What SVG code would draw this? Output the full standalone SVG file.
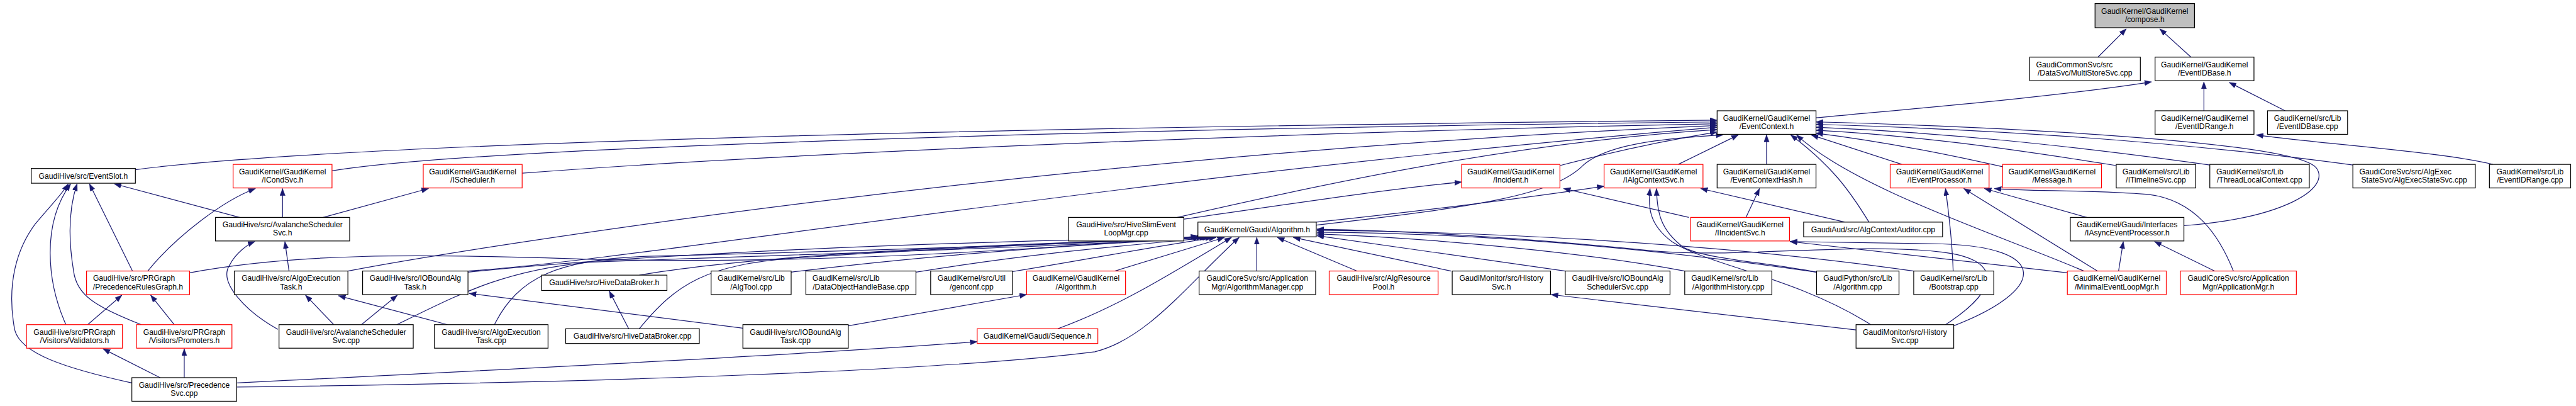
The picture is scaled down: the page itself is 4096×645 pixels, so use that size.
<svg xmlns="http://www.w3.org/2000/svg" width="4096" height="645" viewBox="0 0 4096 645">
<style>
.nd rect{fill:#fff;stroke:#000;stroke-width:1.3}
.nd.red rect{stroke:#f00}
.nd.gray rect{fill:#bfbfbf}
.nd text{font-family:"Liberation Sans",Arial,sans-serif;font-size:13px;fill:#000}
.c{text-anchor:middle}
.e path{fill:none;stroke:#191970;stroke-width:1.3;marker-end:url(#ah)}
</style>
<defs>
<marker id="ah" markerUnits="userSpaceOnUse" markerWidth="13" markerHeight="10" refX="12" refY="4.5" orient="auto">
<path d="M0,0 L12,4.5 L0,9 z" fill="#191970" stroke="#191970" stroke-width="0.5"/>
</marker>
</defs>
<rect width="4096" height="645" fill="#fff"/>
<g transform="scale(0.936)">
<g id="edges" class="e">
<path d="M3564,97 L3612,49"/>
<path d="M3722,97 L3669,49"/>
<path d="M3085,200 C3300,180 3500,163 3655,139"/>
<path d="M3744,188 L3744,139"/>
<path d="M3882,188 L3787,140"/>
<path d="M4235,279 C4150,258 3950,245 3833,229"/>
<path d="M230,288 C600,240 1800,215 2917,204"/>
<path d="M564,290 C800,250 1900,218 2917,207"/>
<path d="M887,294 C1400,255 2300,222 2917,210"/>
<path d="M591,460 C800,420 1800,260 2917,213"/>
<path d="M795,460 C1100,440 1900,300 2917,216"/>
<path d="M2000,369 C2300,300 2600,240 2917,220"/>
<path d="M2011,372 C2200,345 2350,322 2483,309"/>
<path d="M2650,281 C2750,255 2850,235 2917,224"/>
<path d="M2236,382 C2520,350 2640,330 2690,280 C2730,245 2820,235 2927,229"/>
<path d="M2236,377 C2400,360 2600,335 2725,316"/>
<path d="M2851,279 L2953,229"/>
<path d="M3001,279 L3001,229"/>
<path d="M3175,377 C3140,320 3110,280 3042,229"/>
<path d="M3540,460 C3400,400 3150,320 3052,229"/>
<path d="M3231,279 L3077,229"/>
<path d="M3402,283 C3300,260 3200,240 3085,226"/>
<path d="M3595,281 C3400,250 3250,230 3085,221"/>
<path d="M3754,280 C3500,245 3300,225 3085,216"/>
<path d="M3997,280 C3700,240 3400,220 3085,211"/>
<path d="M3710,383 C3880,370 3960,320 3935,285 C3900,240 3400,215 3085,207"/>
<path d="M3318,460 C3316,400 3310,360 3305,320"/>
<path d="M3563,460 L3336,320"/>
<path d="M3545,369 L3371,320"/>
<path d="M3794,460 C3770,400 3730,340 3650,330 C3550,322 3450,325 3388,320"/>
<path d="M3599,460 L3607,410"/>
<path d="M3762,460 L3660,410"/>
<path d="M3512,463 L3041,410"/>
<path d="M3319,553 C3480,490 3480,420 3300,414 C3200,412 3100,411 3041,410"/>
<path d="M3305,551 C3400,490 3400,440 3300,428 C3150,410 2950,440 2800,425 C2600,405 2400,392 2237,389"/>
<path d="M3178,551 C3050,470 2900,450 2840,410 C2800,380 2800,350 2803,320"/>
<path d="M3086,462 C3000,445 2900,440 2860,420 C2820,390 2815,360 2814,320"/>
<path d="M3134,377 L2889,320"/>
<path d="M2966,369 L2989,320"/>
<path d="M2869,369 L2656,320"/>
<path d="M3153,560 L2635,500"/>
<path d="M2135,460 L2135,403"/>
<path d="M2305,460 L2170,403"/>
<path d="M2465,460 L2197,403"/>
<path d="M2659,460 L2237,400"/>
<path d="M2862,460 C2700,430 2450,405 2237,397"/>
<path d="M3086,462 C2800,420 2500,395 2237,394"/>
<path d="M3251,460 C2900,410 2500,393 2237,391"/>
<path d="M322,463 C500,430 700,430 1000,440 C1400,450 1800,420 2035,401"/>
<path d="M840,551 C880,470 950,440 1100,435 C1500,425 1800,415 2037,402"/>
<path d="M674,551 C780,500 850,460 1000,445 C1400,430 1800,420 2039,403"/>
<path d="M795,462 C1100,430 1600,410 2041,403"/>
<path d="M1086,467 C1300,430 1700,415 2045,403"/>
<path d="M1086,558 C1150,480 1200,450 1350,438 C1600,420 1850,412 2050,403"/>
<path d="M1344,462 C1600,430 1850,415 2055,403"/>
<path d="M1556,462 C1750,430 1900,418 2060,403"/>
<path d="M1720,461 C1850,440 1950,420 2066,403"/>
<path d="M1894,460 L2080,403"/>
<path d="M1797,558 C1900,520 1980,470 2092,403"/>
<path d="M402,657 C1000,650 1600,630 1860,597 C1950,575 2020,480 2105,403"/>
<path d="M402,650 C900,625 1400,600 1660,580"/>
<path d="M1441,553 L1744,500"/>
<path d="M1262,557 L797,498"/>
<path d="M1068,558 L1035,494"/>
<path d="M760,551 L575,502"/>
<path d="M407,369 L194,312"/>
<path d="M480,369 L480,320"/>
<path d="M549,369 L728,320"/>
<path d="M225,460 L152,312"/>
<path d="M251,460 C300,400 380,340 434,320"/>
<path d="M112,551 C80,480 70,380 120,312"/>
<path d="M240,551 C160,520 130,500 125,460 C115,400 118,350 131,312"/>
<path d="M224,650 C110,625 35,600 25,560 C10,480 30,420 60,380 C85,350 105,330 116,312"/>
<path d="M149,551 L207,501"/>
<path d="M296,551 L256,501"/>
<path d="M272,641 L175,592"/>
<path d="M313,641 L313,592"/>
<path d="M491,460 L484,410"/>
<path d="M472,559 C420,530 370,480 390,450 C400,430 420,415 433,410"/>
<path d="M567,551 L519,501"/>
<path d="M614,551 L675,501"/>
</g>

<g id="compose" class="nd gray"><rect x="3559" y="6" width="169" height="41"/><text class="c" x="3643.5" y="23">GaudiKernel/GaudiKernel</text><text class="c" x="3643.5" y="37">/compose.h</text></g>
<g id="multistore" class="nd"><rect x="3448" y="97" width="188" height="40"/><text x="3459" y="114">GaudiCommonSvc/src</text><text class="c" x="3542" y="128">/DataSvc/MultiStoreSvc.cpp</text></g>
<g id="eventidbase_h" class="nd"><rect x="3661" y="97" width="168" height="40"/><text class="c" x="3745" y="114">GaudiKernel/GaudiKernel</text><text class="c" x="3745" y="128">/EventIDBase.h</text></g>

<g id="eventcontext" class="nd"><rect x="2917" y="188" width="168" height="40"/><text class="c" x="3001" y="205">GaudiKernel/GaudiKernel</text><text class="c" x="3001" y="219">/EventContext.h</text></g>
<g id="eventidrange_h" class="nd"><rect x="3661" y="188" width="168" height="40"/><text class="c" x="3745" y="205">GaudiKernel/GaudiKernel</text><text class="c" x="3745" y="219">/EventIDRange.h</text></g>
<g id="eventidbase_cpp" class="nd"><rect x="3852" y="188" width="136" height="40"/><text class="c" x="3920" y="205">GaudiKernel/src/Lib</text><text class="c" x="3920" y="219">/EventIDBase.cpp</text></g>

<g id="eventslot" class="nd"><rect x="53" y="286" width="177" height="25"/><text class="c" x="141.5" y="303">GaudiHive/src/EventSlot.h</text></g>
<g id="icondsvc" class="nd red"><rect x="396" y="279" width="168" height="40"/><text class="c" x="480" y="296">GaudiKernel/GaudiKernel</text><text class="c" x="480" y="310">/ICondSvc.h</text></g>
<g id="ischeduler" class="nd red"><rect x="719" y="279" width="168" height="40"/><text class="c" x="803" y="296">GaudiKernel/GaudiKernel</text><text class="c" x="803" y="310">/IScheduler.h</text></g>
<g id="incident" class="nd red"><rect x="2483" y="279" width="167" height="40"/><text class="c" x="2566.5" y="296">GaudiKernel/GaudiKernel</text><text class="c" x="2566.5" y="310">/Incident.h</text></g>
<g id="ialgcontextsvc" class="nd red"><rect x="2725" y="279" width="168" height="40"/><text class="c" x="2809" y="296">GaudiKernel/GaudiKernel</text><text class="c" x="2809" y="310">/IAlgContextSvc.h</text></g>
<g id="eventcontexthash" class="nd"><rect x="2917" y="279" width="168" height="40"/><text class="c" x="3001" y="296">GaudiKernel/GaudiKernel</text><text class="c" x="3001" y="310">/EventContextHash.h</text></g>
<g id="ieventprocessor" class="nd red"><rect x="3211" y="279" width="168" height="40"/><text class="c" x="3295" y="296">GaudiKernel/GaudiKernel</text><text class="c" x="3295" y="310">/IEventProcessor.h</text></g>
<g id="message" class="nd red"><rect x="3402" y="279" width="168" height="40"/><text class="c" x="3486" y="296">GaudiKernel/GaudiKernel</text><text class="c" x="3486" y="310">/Message.h</text></g>
<g id="itimelinesvc" class="nd"><rect x="3595" y="279" width="135" height="40"/><text class="c" x="3662.5" y="296">GaudiKernel/src/Lib</text><text class="c" x="3662.5" y="310">/ITimelineSvc.cpp</text></g>
<g id="threadlocal" class="nd"><rect x="3754" y="279" width="169" height="40"/><text x="3765" y="296">GaudiKernel/src/Lib</text><text class="c" x="3838.5" y="310">/ThreadLocalContext.cpp</text></g>
<g id="algexecstate" class="nd"><rect x="3997" y="279" width="208" height="40"/><text x="4008" y="296">GaudiCoreSvc/src/AlgExec</text><text class="c" x="4101" y="310">StateSvc/AlgExecStateSvc.cpp</text></g>
<g id="eventidrange_cpp" class="nd"><rect x="4229" y="279" width="138" height="40"/><text class="c" x="4298" y="296">GaudiKernel/src/Lib</text><text class="c" x="4298" y="310">/EventIDRange.cpp</text></g>

<g id="avalanche_h" class="nd"><rect x="366" y="369" width="228" height="40"/><text class="c" x="480" y="386">GaudiHive/src/AvalancheScheduler</text><text class="c" x="480" y="400">Svc.h</text></g>
<g id="hiveslim" class="nd"><rect x="1815" y="369" width="196" height="40"/><text class="c" x="1913" y="386">GaudiHive/src/HiveSlimEvent</text><text class="c" x="1913" y="400">LoopMgr.cpp</text></g>
<g id="gaudialg" class="nd"><rect x="2035" y="377" width="201" height="25"/><text class="c" x="2135.5" y="394">GaudiKernel/Gaudi/Algorithm.h</text></g>
<g id="iincidentsvc" class="nd red"><rect x="2872" y="369" width="168" height="40"/><text class="c" x="2956" y="386">GaudiKernel/GaudiKernel</text><text class="c" x="2956" y="400">/IIncidentSvc.h</text></g>
<g id="algcontextauditor" class="nd"><rect x="3064" y="377" width="236" height="25"/><text class="c" x="3182" y="394">GaudiAud/src/AlgContextAuditor.cpp</text></g>
<g id="iasync" class="nd"><rect x="3517" y="369" width="193" height="40"/><text class="c" x="3613.5" y="386">GaudiKernel/Gaudi/Interfaces</text><text class="c" x="3613.5" y="400">/IAsyncEventProcessor.h</text></g>

<g id="precedencerules" class="nd red"><rect x="147" y="460" width="175" height="40"/><text x="158" y="477">GaudiHive/src/PRGraph</text><text class="c" x="234.5" y="491">/PrecedenceRulesGraph.h</text></g>
<g id="algoexec_h" class="nd"><rect x="398" y="460" width="193" height="40"/><text class="c" x="494.5" y="477">GaudiHive/src/AlgoExecution</text><text class="c" x="494.5" y="491">Task.h</text></g>
<g id="ioboundalg_h" class="nd"><rect x="616" y="460" width="179" height="40"/><text class="c" x="705.5" y="477">GaudiHive/src/IOBoundAlg</text><text class="c" x="705.5" y="491">Task.h</text></g>
<g id="hivedatabroker_h" class="nd"><rect x="920" y="467" width="213" height="26"/><text class="c" x="1026.5" y="484">GaudiHive/src/HiveDataBroker.h</text></g>
<g id="algtool" class="nd"><rect x="1208" y="460" width="136" height="40"/><text class="c" x="1276" y="477">GaudiKernel/src/Lib</text><text class="c" x="1276" y="491">/AlgTool.cpp</text></g>
<g id="dataobjhandle" class="nd"><rect x="1369" y="460" width="187" height="40"/><text x="1380" y="477">GaudiKernel/src/Lib</text><text class="c" x="1462.5" y="491">/DataObjectHandleBase.cpp</text></g>
<g id="genconf" class="nd"><rect x="1581" y="460" width="139" height="40"/><text class="c" x="1650.5" y="477">GaudiKernel/src/Util</text><text class="c" x="1650.5" y="491">/genconf.cpp</text></g>
<g id="kernelalgorithm" class="nd red"><rect x="1744" y="460" width="168" height="40"/><text class="c" x="1828" y="477">GaudiKernel/GaudiKernel</text><text class="c" x="1828" y="491">/Algorithm.h</text></g>
<g id="algmanager" class="nd"><rect x="2037" y="460" width="198" height="40"/><text class="c" x="2136" y="477">GaudiCoreSvc/src/Application</text><text class="c" x="2136" y="491">Mgr/AlgorithmManager.cpp</text></g>
<g id="algresourcepool" class="nd red"><rect x="2258" y="460" width="185" height="40"/><text class="c" x="2350.5" y="477">GaudiHive/src/AlgResource</text><text class="c" x="2350.5" y="491">Pool.h</text></g>
<g id="historysvc_h" class="nd"><rect x="2467" y="460" width="167" height="40"/><text class="c" x="2550.5" y="477">GaudiMonitor/src/History</text><text class="c" x="2550.5" y="491">Svc.h</text></g>
<g id="ioboundsched" class="nd"><rect x="2659" y="460" width="178" height="40"/><text class="c" x="2748" y="477">GaudiHive/src/IOBoundAlg</text><text class="c" x="2748" y="491">SchedulerSvc.cpp</text></g>
<g id="alghistory" class="nd"><rect x="2862" y="460" width="148" height="40"/><text x="2873" y="477">GaudiKernel/src/Lib</text><text class="c" x="2936" y="491">/AlgorithmHistory.cpp</text></g>
<g id="pyalgorithm" class="nd"><rect x="3086" y="460" width="140" height="40"/><text class="c" x="3156" y="477">GaudiPython/src/Lib</text><text class="c" x="3156" y="491">/Algorithm.cpp</text></g>
<g id="bootstrap" class="nd"><rect x="3251" y="460" width="136" height="40"/><text class="c" x="3319" y="477">GaudiKernel/src/Lib</text><text class="c" x="3319" y="491">/Bootstrap.cpp</text></g>
<g id="minimalelm" class="nd red"><rect x="3512" y="460" width="168" height="40"/><text class="c" x="3596" y="477">GaudiKernel/GaudiKernel</text><text class="c" x="3596" y="491">/MinimalEventLoopMgr.h</text></g>
<g id="appmgr" class="nd red"><rect x="3704" y="460" width="197" height="40"/><text class="c" x="3802.5" y="477">GaudiCoreSvc/src/Application</text><text class="c" x="3802.5" y="491">Mgr/ApplicationMgr.h</text></g>

<g id="validators" class="nd red"><rect x="45" y="551" width="163" height="40"/><text class="c" x="126.5" y="568">GaudiHive/src/PRGraph</text><text class="c" x="126.5" y="582">/Visitors/Validators.h</text></g>
<g id="promoters" class="nd red"><rect x="232" y="551" width="162" height="40"/><text class="c" x="313" y="568">GaudiHive/src/PRGraph</text><text class="c" x="313" y="582">/Visitors/Promoters.h</text></g>
<g id="avalanche_cpp" class="nd"><rect x="474" y="551" width="228" height="40"/><text class="c" x="588" y="568">GaudiHive/src/AvalancheScheduler</text><text class="c" x="588" y="582">Svc.cpp</text></g>
<g id="algoexec_cpp" class="nd"><rect x="738" y="551" width="193" height="40"/><text class="c" x="834.5" y="568">GaudiHive/src/AlgoExecution</text><text class="c" x="834.5" y="582">Task.cpp</text></g>
<g id="hivedatabroker_cpp" class="nd"><rect x="961" y="558" width="227" height="25"/><text class="c" x="1074.5" y="575">GaudiHive/src/HiveDataBroker.cpp</text></g>
<g id="ioboundalg_cpp" class="nd"><rect x="1262" y="551" width="179" height="40"/><text class="c" x="1351.5" y="568">GaudiHive/src/IOBoundAlg</text><text class="c" x="1351.5" y="582">Task.cpp</text></g>
<g id="sequence" class="nd red"><rect x="1660" y="558" width="205" height="25"/><text class="c" x="1762.5" y="575">GaudiKernel/Gaudi/Sequence.h</text></g>
<g id="historysvc_cpp" class="nd"><rect x="3153" y="551" width="166" height="40"/><text class="c" x="3236" y="568">GaudiMonitor/src/History</text><text class="c" x="3236" y="582">Svc.cpp</text></g>

<g id="precedencesvc" class="nd"><rect x="224" y="641" width="178" height="40"/><text class="c" x="313" y="658">GaudiHive/src/Precedence</text><text class="c" x="313" y="672">Svc.cpp</text></g>
</g>
</svg>
